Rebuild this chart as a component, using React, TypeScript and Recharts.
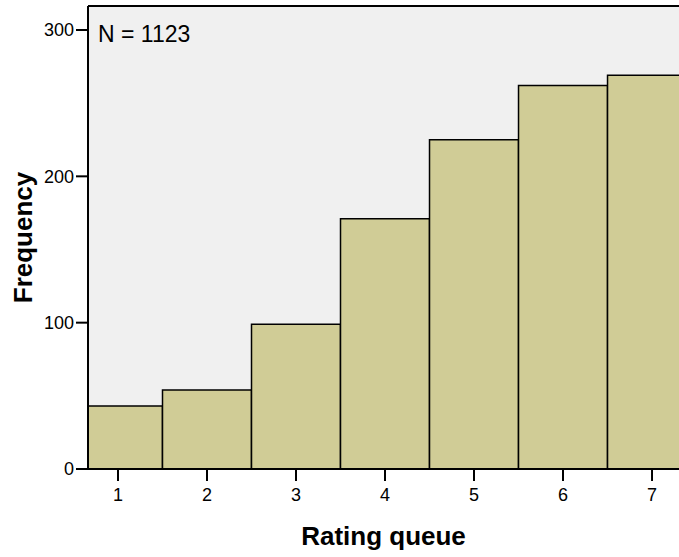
import React from 'react';
import { BarChart, Bar, XAxis, YAxis, CartesianGrid, ReferenceLine, Customized } from 'recharts';

// rating categories and their counts
const ratings = [1, 2, 3, 4, 5, 6, 7];
const counts = [43, 54, 99, 171, 225, 262, 269];
const yTicks = [0, 100, 200, 300];
const totalN = 1123;

const data = ratings.map((r, i) => ({ rating: r, count: counts[i] }));

const FONT = '"Liberation Sans", Arial, sans-serif';
const Y_TOP = 316.4;

const NLabel = () => (
  <text x={98} y={42} fontFamily={FONT} fontSize={23} fill="#000">
    {`N = ${totalN}`}
  </text>
);

const App: React.FC = () => (
  <div style={{ position: 'absolute', left: 0, top: 0, width: 679, height: 557, overflow: 'hidden', background: '#fff' }}>
    <BarChart
      width={679}
      height={557}
      data={data}
      margin={{ top: 6, right: 0, bottom: 0, left: 0 }}
      barCategoryGap={0}
      barGap={0}
    >
      <CartesianGrid fill="#f0f0f0" horizontal={false} vertical={false} />
      <XAxis
        dataKey="rating"
        type="number"
        domain={[0.663, 7.303]}
        allowDataOverflow
        ticks={ratings}
        height={88}
        tickSize={12}
        tickMargin={7}
        stroke="#000"
        strokeWidth={2}
        tick={{ fill: '#000', fontSize: 18, fontFamily: FONT }}
        label={{ value: 'Rating queue', position: 'insideBottom', offset: 12, fill: '#000', fontSize: 26, fontWeight: 'bold', fontFamily: FONT }}
      />
      <YAxis
        domain={[0, Y_TOP]}
        allowDataOverflow
        ticks={yTicks}
        width={88}
        tickSize={12}
        tickMargin={2}
        stroke="#000"
        strokeWidth={2}
        tick={{ fill: '#000', fontSize: 18, fontFamily: FONT }}
        label={{ value: 'Frequency', angle: -90, position: 'insideLeft', offset: 23, textAnchor: 'middle', fill: '#000', fontSize: 26, fontWeight: 'bold', fontFamily: FONT }}
      />
      <ReferenceLine y={Y_TOP} stroke="#000" strokeWidth={2} ifOverflow="visible" />
      <Bar dataKey="count" fill="#d0cc96" stroke="#000" strokeWidth={1.5} barSize={89} isAnimationActive={false} />
      <Customized component={NLabel} />
    </BarChart>
  </div>
);

export default App;
